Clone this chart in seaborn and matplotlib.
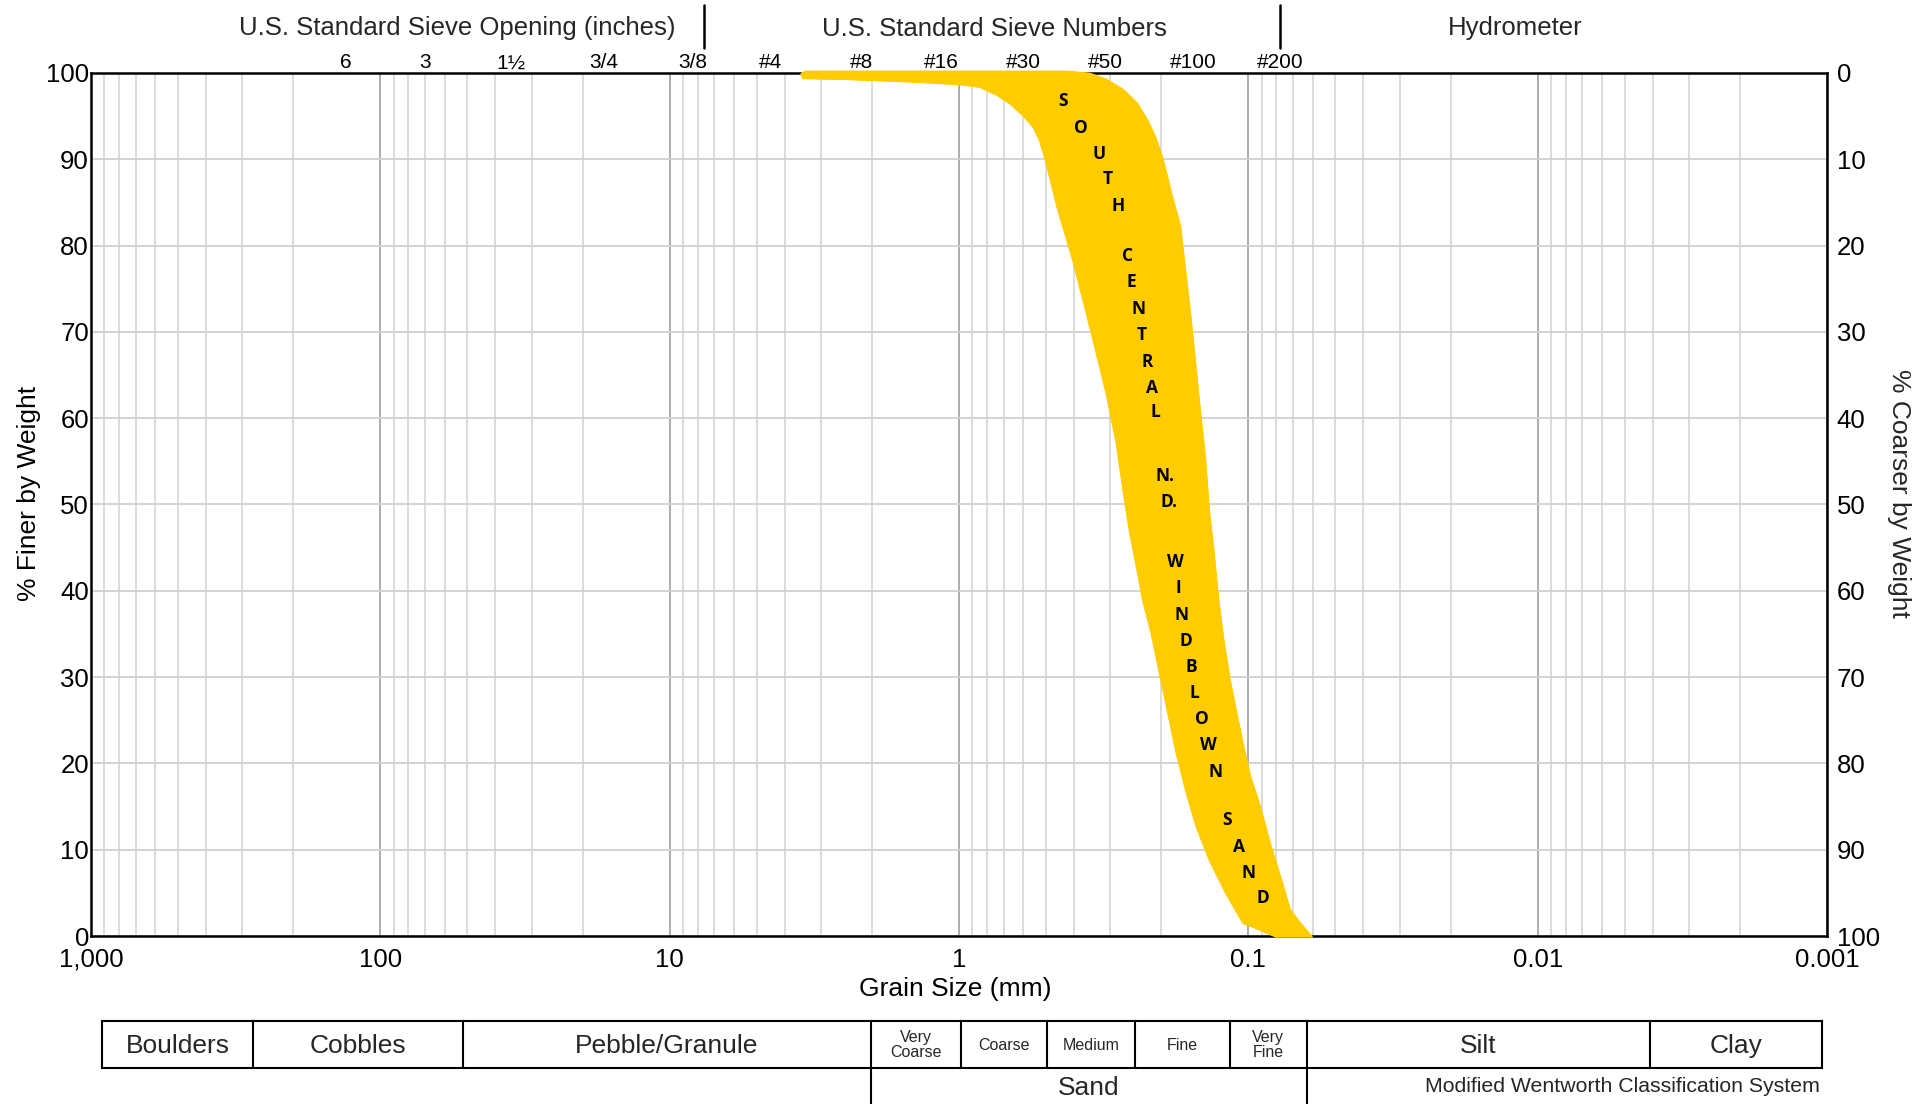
import numpy as np
import pandas as pd
import matplotlib
matplotlib.use("Agg")
import matplotlib.pyplot as plt
from matplotlib.ticker import LogLocator, NullFormatter, NullLocator
import seaborn as sns

# ---------------- data ----------------
# coarse (left) edge of the band, top -> bottom : grain size (mm), % finer
coarse_mm = [3.50, 3.46, 2.44, 1.44, 0.99, 0.846, 0.741, 0.667, 0.600, 0.554, 0.525,
             0.505, 0.485, 0.457, 0.403, 0.362, 0.334, 0.309, 0.285, 0.267, 0.256,
             0.243, 0.231, 0.216, 0.202, 0.189, 0.177, 0.163, 0.151, 0.136, 0.119,
             0.104, 0.0936, 0.0798]
coarse_pct = [99.8, 99.4, 99.3, 99.0, 98.7, 98.4, 97.5, 96.5, 95.1, 93.8, 92.2,
              90.3, 88.0, 84.5, 78.3, 72.2, 67.5, 62.9, 57.1, 50.5, 46.7,
              42.8, 38.9, 35.1, 30.4, 25.8, 21.2, 16.5, 12.7, 8.8, 4.9,
              1.5, 0.9, -0.1]
# fine (right) edge of the band, bottom -> top
fine_mm = [0.0604, 0.0663, 0.0718, 0.0777, 0.0842, 0.0912, 0.0986, 0.104, 0.110,
           0.116, 0.122, 0.127, 0.132, 0.137, 0.141, 0.147, 0.153, 0.159, 0.166,
           0.172, 0.184, 0.191, 0.199, 0.210, 0.224, 0.243, 0.270, 0.309, 0.352,
           0.42, 3.40, 3.50]
fine_pct = [-0.1, 1.5, 3.0, 6.9, 10.7, 15.0, 18.5, 21.9, 25.8,
            29.7, 34.3, 38.9, 44.7, 49.4, 55.2, 60.9, 66.7, 72.2, 77.6,
            82.2, 85.8, 88.0, 90.3, 92.6, 94.6, 96.5, 98.0, 99.2, 99.9,
            100.15, 100.15, 99.9]

band_letters = ["S", "O", "U", "T", "H", "C", "E", "N", "T", "R", "A", "L", "N.", "D.",
                "W", "I", "N", "D", "B", "L", "O", "W", "N", "S", "A", "N", "D"]
letter_mm = [0.436, 0.380, 0.327, 0.307, 0.281, 0.262, 0.253, 0.240, 0.234, 0.224,
             0.215, 0.209, 0.194, 0.188, 0.179, 0.175, 0.170, 0.164, 0.158, 0.154,
             0.145, 0.137, 0.130, 0.118, 0.108, 0.0995, 0.0888]
letter_pct = [96.7, 93.6, 90.6, 87.7, 84.6, 78.8, 75.8, 72.7, 69.6, 66.5,
              63.5, 60.7, 53.3, 50.3, 43.3, 40.3, 37.2, 34.2, 31.2, 28.2,
              25.1, 22.1, 19.0, 13.4, 10.3, 7.3, 4.4]

x_ticks = [1000, 100, 10, 1, 0.1, 0.01, 0.001]
x_ticklabels = ["1,000", "100", "10", "1", "0.1", "0.01", "0.001"]
y_ticks = list(range(0, 101, 10))

sieve_labels = ["6", "3", "1½", "3/4", "3/8", "#4", "#8", "#16", "#30", "#50", "#100", "#200"]
sieve_pos_mm = [131.5, 70.1, 35.3, 16.9, 8.30, 4.50, 2.18, 1.15, 0.60, 0.313, 0.155, 0.0777]
header_sep_mm = [7.63, 0.0775]

# classification table (cell boundaries in mm)
class_bounds = [916, 275, 52, 2.01, 0.984, 0.497, 0.247, 0.116, 0.0627, 0.0041, 0.00104]
class_names = ["Boulders", "Cobbles", "Pebble/Granule", "Very\nCoarse", "Coarse", "Medium",
               "Fine", "Very\nFine", "Silt", "Clay"]
class_small = [False, False, False, True, True, True, True, True, False, False]
sand_bounds = [2.01, 0.0627]

BAND = "#FFCC00"

# ---------------- style ----------------
sns.set_theme(style="white")
plt.rcParams["font.family"] = ["Liberation Sans", "DejaVu Sans"]

W, H = 1932, 1104
fig = plt.figure(figsize=(W / 100, H / 100), dpi=100)
L, R, T, B = 91, 1827, 73, 936
ax = fig.add_axes([L / W, 1 - B / H, (R - L) / W, (B - T) / H])

ax.set_xscale("log")
ax.set_xlim(1000, 0.001)
ax.set_ylim(0, 100)
ax.set_xticks(x_ticks, labels=x_ticklabels)
ax.xaxis.set_minor_locator(LogLocator(base=10, subs=np.arange(2, 10)))
ax.xaxis.set_minor_formatter(NullFormatter())
ax.set_yticks(y_ticks)
ax.tick_params(axis="both", which="both", length=0, labelsize=18.5, colors="black")
ax.tick_params(axis="y", pad=1.5)
ax.tick_params(axis="x", pad=8.5)

ax.set_axisbelow(True)
ax.grid(which="major", axis="x", color="#a6a6a6", lw=1.3)
ax.grid(which="minor", axis="x", color="#d9d9d9", lw=1.3)
ax.grid(which="major", axis="y", color="#d0d0d0", lw=1.3)
for s in ax.spines.values():
    s.set_visible(True)
    s.set_color("black")
    s.set_linewidth(1.8)

# band
poly_x = list(coarse_mm) + list(fine_mm)
poly_y = list(coarse_pct) + list(fine_pct)
ax.fill(poly_x, poly_y, color=BAND, lw=1.2, ec=BAND, zorder=3, clip_on=False,
        joinstyle="round")
edges = pd.DataFrame({"mm": coarse_mm + fine_mm,
                      "pct": coarse_pct + fine_pct,
                      "edge": ["coarse"] * len(coarse_mm) + ["fine"] * len(fine_mm)})
sns.lineplot(data=edges, x="mm", y="pct", units="edge", estimator=None, sort=False,
             color=BAND, lw=1.5, ax=ax, zorder=3, legend=False)
for ln in ax.lines:
    ln.set_clip_on(False)
    ln.set_solid_joinstyle("round")
ax.set_xlim(1000, 0.001)
ax.set_ylim(0, 100)

for t, xm, yp in zip(band_letters, letter_mm, letter_pct):
    ax.text(xm, yp, t, ha="center", va="center", fontsize=12.5, fontweight="bold",
            family=["Open Sans", "DejaVu Sans"], color="black", zorder=4)

# labels
ax.set_xlabel("Grain Size (mm)", fontsize=19, color="black")
ax.xaxis.set_label_coords(0.4977, -0.0614)
ax.xaxis.label.set_va("center")
ax.set_ylabel("% Finer by Weight", fontsize=19, color="black")
ax.yaxis.set_label_coords(-0.036, 0.513)
ax.yaxis.label.set_va("center")

# right axis: % coarser
secy = ax.secondary_yaxis("right", functions=(lambda y: 100 - y, lambda y: 100 - y))
secy.set_yticks(y_ticks)
secy.tick_params(length=0, pad=7, labelsize=18.5, colors="black")
for s in secy.spines.values():
    s.set_visible(False)
fig.text(1899 / W, 1 - 493 / H, "% Coarser by Weight", rotation=270, ha="center",
         va="center", fontsize=19, rotation_mode="anchor")

# top axis: sieve labels
secx = ax.secondary_xaxis("top")
secx.set_xticks(sieve_pos_mm, labels=sieve_labels)
secx.xaxis.set_minor_locator(NullLocator())
secx.tick_params(length=0, pad=0.5, labelsize=15, colors="black")
for s in secx.spines.values():
    s.set_visible(False)

# headers
fig.text(457 / W, 1 - 27.5 / H, "U.S. Standard Sieve Opening (inches)", ha="center",
         va="center", fontsize=18.5)
fig.text(994 / W, 1 - 28.5 / H, "U.S. Standard Sieve Numbers", ha="center",
         va="center", fontsize=18.5)
fig.text(1515 / W, 1 - 28.5 / H, "Hydrometer", ha="center", va="center", fontsize=18.5)
xt = ax.get_xaxis_transform()
for xs in header_sep_mm:
    ax.plot([xs, xs], [(B - 5) / (B - T), (B - 48) / (B - T)], transform=xt,
            color="black", lw=1.8, clip_on=False)

# classification table
TT = 1021
tax = fig.add_axes([L / W, 0, (R - L) / W, (H - TT) / H])
tax.set_xscale("log")
tax.set_xlim(1000, 0.001)
tax.set_ylim(0, H - TT)
tax.axis("off")
top_y = H - TT
mid_y = H - 1067.7
lkw = dict(color="black", lw=1.5, clip_on=False, solid_capstyle="projecting")
tax.plot([class_bounds[0], class_bounds[-1]], [top_y, top_y], **lkw)
tax.plot([class_bounds[0], class_bounds[-1]], [mid_y, mid_y], **lkw)
for b in class_bounds:
    tax.plot([b, b], [mid_y, top_y], **lkw)
for b in sand_bounds:
    tax.plot([b, b], [-5, mid_y], **lkw)
for i, name in enumerate(class_names):
    xc = np.sqrt(class_bounds[i] * class_bounds[i + 1])
    if class_small[i]:
        tax.text(xc, H - 1045, name, ha="center", va="center", fontsize=11.5,
                 linespacing=0.95)
    else:
        tax.text(xc, H - 1046, name, ha="center", va="center", fontsize=19)
tax.text(np.sqrt(sand_bounds[0] * sand_bounds[1]), H - 1088, "Sand", ha="center",
         va="center", fontsize=19)
tax.text(0.00106, H - 1086, "Modified Wentworth Classification System", ha="right",
         va="center", fontsize=15.3)

fig.savefig("out.png", dpi=100)
